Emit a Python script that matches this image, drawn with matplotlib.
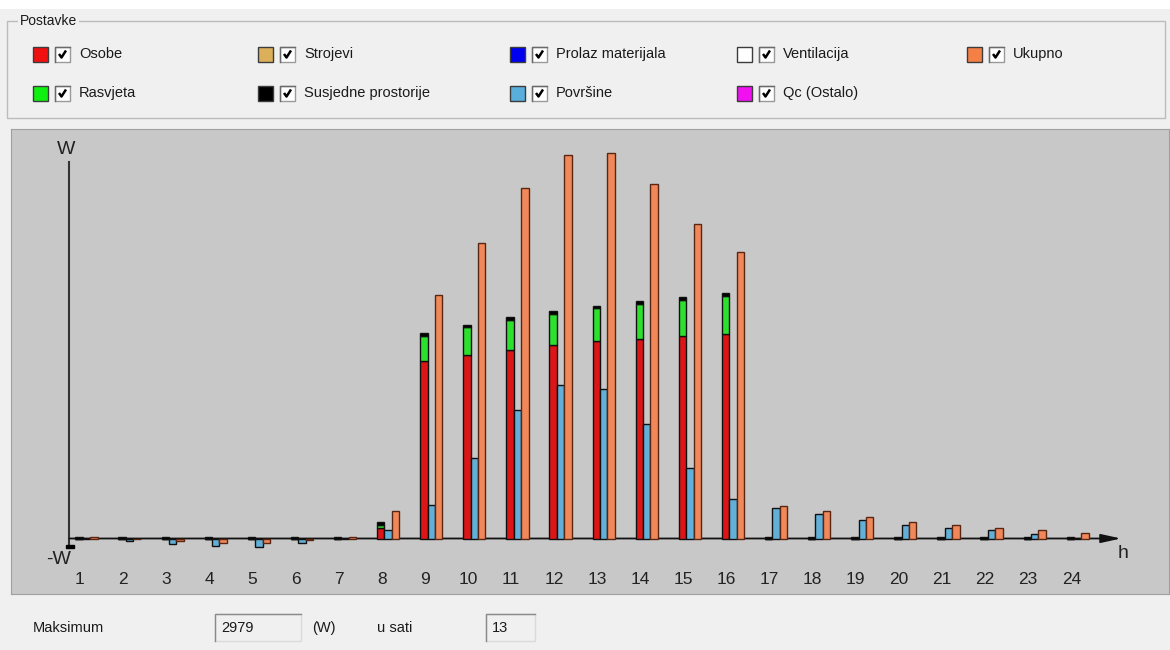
import matplotlib.pyplot as plt
import matplotlib.patches as mpatches
import numpy as np

plt.rcParams['font.family'] = ['Liberation Sans', 'DejaVu Sans']

# hourly values (W)
hours     = np.arange(1, 25)
osobe     = np.array([0, 0, 0, 0, 0, 0, 0, 85, 1372, 1416, 1457, 1493, 1524, 1542, 1565, 1583,
                      0, 0, 0, 0, 0, 0, 0, 0])
rasvjeta  = np.array([0, 0, 0, 0, 0, 0, 0, 20, 193, 216, 232, 244, 255, 273, 281, 291,
                      0, 0, 0, 0, 0, 0, 0, 0])
susjedne  = np.array([15, 15, 15, 15, 15, 15, 15, 20, 20, 20, 20, 20, 20, 20, 20, 20,
                      15, 15, 15, 15, 15, 15, 15, 15])
povrsine  = np.array([0, -20, -45, -55, -65, -35, 0, 66, 259, 620, 991, 1186, 1155, 885, 542, 308,
                      232, 193, 143, 104, 84, 66, 37, 0])
ukupno    = np.array([8, -5, -23, -35, -35, -8, 12, 213, 1879, 2286, 2706, 2961, 2979, 2737, 2433, 2216,
                      251, 212, 163, 124, 107, 85, 66, 46])

legendNames  = ['Osobe', 'Strojevi', 'Prolaz materijala', 'Ventilacija', 'Ukupno',
                'Rasvjeta', 'Susjedne prostorije', 'Površine', 'Qc (Ostalo)']
legendColors = ['#f01010', '#dcb05a', '#0000f0', '#ffffff', '#f58045',
                '#10f010', '#000000', '#5aaedc', '#f010f0']

cRed, cGreen, cBlue, cOrange = '#dc1616', '#2ee02e', '#62b0d8', '#f0885a'

# pixel geometry of the chart panel (figure is 1170x650 px)
FIG_W, FIG_H = 1170, 650
X0_PX, HOUR_PX = 80., 43.1      # x pixel of hour 1, pixels per hour
BASE_PX = 538.5                 # y pixel of zero line
WPP = 7.728                     # watts per pixel

def hx(px):
    return 1 + (px - X0_PX) / HOUR_PX

def vy(py):
    return (BASE_PX - py) * WPP

fig = plt.figure(figsize=(FIG_W/100., FIG_H/100.), dpi=100, facecolor='#f0f0f0')

#### UI axes in pixel coords ####
ui = fig.add_axes([0, 0, 1, 1])
ui.set_xlim(0, FIG_W)
ui.set_ylim(FIG_H, 0)
ui.axis('off')

ui.add_patch(mpatches.Rectangle((0, 0), FIG_W, 9, color='#ffffff', lw=0))

# group box "Postavke"
ui.add_patch(mpatches.Rectangle((7, 21), 1158, 97, fill=False, ec='#bcbcbc', lw=1))
ui.text(20, 21, 'Postavke', fontsize=10, va='center', ha='left', color='#1a1a1a',
        bbox=dict(fc='#f0f0f0', ec='none', pad=1.5))

colX = [33, 258, 510, 737, 967]
rowY = [54, 93]
for i, (name, col) in enumerate(zip(legendNames, legendColors)):
    r, c = divmod(i, 5)
    x, y = colX[c], rowY[r]
    ui.add_patch(mpatches.Rectangle((x, y - 7.5), 15, 15, fc=col, ec='#3c3c3c', lw=1))
    bx = x + 22
    ui.add_patch(mpatches.Rectangle((bx, y - 7.5), 15, 15, fc='white', ec='#9a9a9a', lw=1))
    ui.plot([bx, bx, bx + 15], [y + 7.5, y - 7.5, y - 7.5], color='#6a6a6a', lw=1)
    ui.plot([bx + 4, bx + 6.5, bx + 11], [y, y + 3.5, y - 3.5], color='black', lw=1.8,
            solid_capstyle='butt')
    ui.text(bx + 24, y, name, fontsize=10.5, va='center', ha='left', color='#1a1a1a')

# bottom row: maximum and its hour
iMax = int(np.argmax(ukupno))
ui.text(33, 628, 'Maksimum', fontsize=10.5, va='center', ha='left', color='#1a1a1a')
for (bx, bw, txt) in [(215, 86, '%d' % ukupno[iMax]), (486, 49, '%d' % hours[iMax])]:
    ui.add_patch(mpatches.Rectangle((bx, 614), bw, 27, fc='#f0f0f0', ec='#dadada', lw=1))
    ui.plot([bx, bx, bx + bw], [641, 614, 614], color='#8a8a8a', lw=1)
    ui.text(bx + 6, 628, txt, fontsize=10.5, va='center', ha='left', color='#1a1a1a')
ui.text(312, 628, '(W)', fontsize=10.5, va='center', ha='left', color='#1a1a1a')
ui.text(377, 628, 'u sati', fontsize=10.5, va='center', ha='left', color='#1a1a1a')

#### Chart axes ####
ax = fig.add_axes([11./FIG_W, 1 - 594./FIG_H, 1158./FIG_W, 465./FIG_H])
ax.set_facecolor('#c8c8c8')
ax.set_xlim(hx(11), hx(1169))
ax.set_ylim(vy(594), vy(129))
ax.set_xticks([])
ax.set_yticks([])
for sp in ax.spines.values():
    sp.set_color('#a0a0a0')

bw = 7.4 / HOUR_PX
x0 = hours - 1.0 / HOUR_PX
x1 = x0 + bw
x2 = x1 + bw

ax.bar(x0, osobe, bw, color=cRed, ec='#101010', lw=1.0, zorder=3)
ax.bar(x0, rasvjeta, bw, bottom=osobe, color=cGreen, ec='#101010', lw=1.0, zorder=3)
ax.bar(x0, susjedne, bw, bottom=osobe + rasvjeta, color='black', ec='#101010', lw=1.0, zorder=3)
ax.bar(x1, povrsine, bw, color=cBlue, ec='#101010', lw=1.0, zorder=3)
ax.bar(x2, ukupno, bw, color=cOrange, ec='#5a2614', lw=1.0, zorder=3)

# axes with arrow
ax.plot([hx(69.3)] * 2, [vy(548), vy(161.7)], color='#333333', lw=1.5, zorder=2)
ax.add_patch(mpatches.Rectangle((hx(66), vy(548)), 7.5 / HOUR_PX, 3 * WPP, color='black', zorder=2))
ax.annotate('', xy=(hx(1121), 0), xytext=(hx(69.3), 0),
            arrowprops=dict(arrowstyle=mpatches.ArrowStyle('-|>', head_length=1.0, head_width=0.22),
                            color='#111111', lw=1.3, mutation_scale=12, shrinkA=0, shrinkB=0),
            zorder=2)

ax.text(hx(66.5), vy(150), 'W', ha='center', va='center', fontsize=14, color='#222222')
ax.text(hx(59), vy(560), '-W', ha='center', va='center', fontsize=14, color='#222222')
ax.text(hx(1123), vy(553), 'h', ha='center', va='center', fontsize=14, color='#222222')
for h in hours:
    ax.text(h, vy(579), str(h), ha='center', va='center', fontsize=12.5, color='#222222')

fig.savefig('out.png', dpi=100, facecolor=fig.get_facecolor())
